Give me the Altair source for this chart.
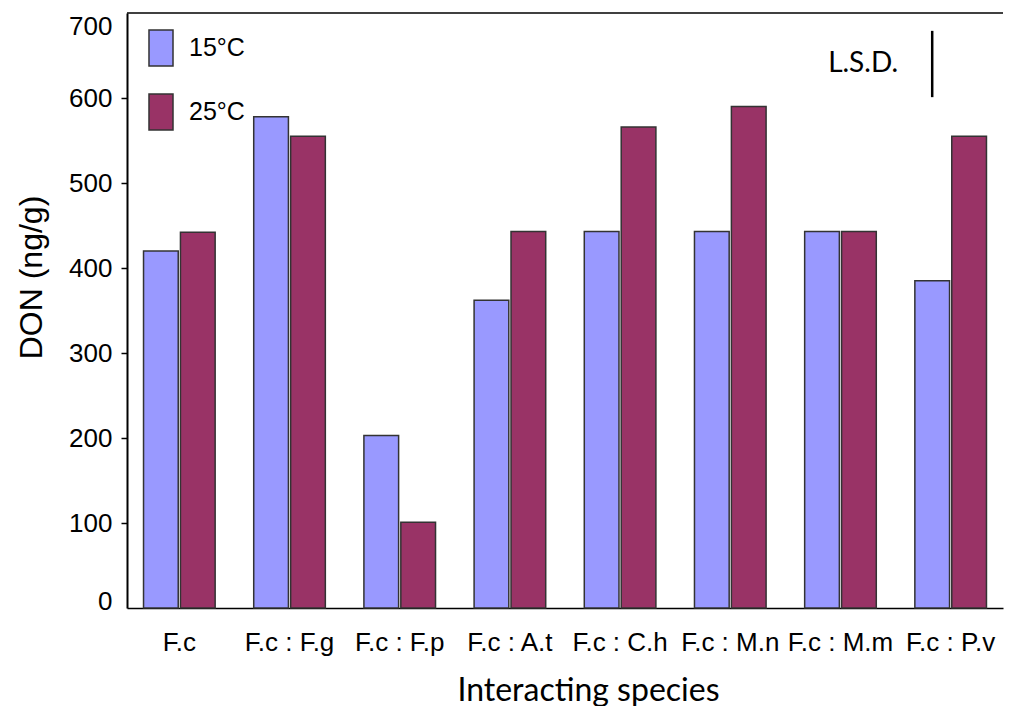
import altair as alt
import pandas as pd

species = ["F.c", "F.c : F.g", "F.c : F.p", "F.c : A.t",
           "F.c : C.h", "F.c : M.n", "F.c : M.m", "F.c : P.v"]
temps = ["15°C", "25°C"]
don_15 = [420, 578, 203, 362, 443, 443, 443, 385]
don_25 = [442, 555, 101, 443, 566, 590, 443, 555]
colors = ["#9999FF", "#993366"]
y_ticks = [0, 100, 200, 300, 400, 500, 600, 700]

lsd_species = ["F.c : P.v"]
lsd_temp = ["15°C"]
lsd_low = [601]
lsd_high = [679]
lsd_text_y = [640]

rows = []
for s, a, b in zip(species, don_15, don_25):
    rows.append({"species": s, "temp": temps[0], "don": a})
    rows.append({"species": s, "temp": temps[1], "don": b})
df = pd.DataFrame(rows)

lsd_df = pd.DataFrame({"species": lsd_species, "temp": lsd_temp,
                       "lo": lsd_low, "hi": lsd_high, "ty": lsd_text_y,
                       "label": ["L.S.D."]})

x_enc = alt.X("species:N", sort=species,
              scale=alt.Scale(paddingInner=0.35, paddingOuter=0.15),
              axis=alt.Axis(title="Interacting species", labelAngle=0,
                            labelFont="Liberation Sans", labelFontSize=26,
                            labelColor="black", labelPadding=21,
                            ticks=False, domainColor="black", domainWidth=1.5,
                            titleFont="Lato", titleFontSize=32,
                            titleFontWeight="normal", titleColor="black",
                            titlePadding=20, titleX=461))
xoff_enc = alt.XOffset("temp:N", sort=temps, scale=alt.Scale(paddingInner=0.06))

y_scale = alt.Scale(domain=[0, 700], nice=False)

bars = alt.Chart(df).mark_bar(stroke="#333333", strokeWidth=1.5).encode(
    x=x_enc,
    xOffset=xoff_enc,
    y=alt.Y("don:Q", scale=y_scale,
            axis=alt.Axis(title="DON (ng/g)", values=y_ticks, grid=False,
                          labelFont="Liberation Sans", labelFontSize=26,
                          labelColor="black", labelPadding=9,
                          labelOffset={"condition": [
                              {"test": "datum.value === 700", "value": 13},
                              {"test": "datum.value === 0", "value": -7}],
                              "value": 0},
                          tickColor={"condition": {"test": "datum.value === 700 || datum.value === 0",
                                                   "value": "transparent"},
                                     "value": "black"},
                          tickSize=6, tickWidth=1.5,
                          domainColor="black", domainWidth=2,
                          titleFont="Liberation Sans", titleFontSize=32,
                          titleFontWeight="normal", titleColor="black",
                          titlePadding=20, titleY=264)),
    color=alt.Color("temp:N", sort=temps,
                    scale=alt.Scale(domain=temps, range=colors),
                    legend=alt.Legend(title=None, orient="none", legendX=15,
                                      legendY=16, padding=0,
                                      symbolType="M-0.667,-1H0.667V1H-0.667Z",
                                      symbolSize=1296, symbolStrokeColor="#333333",
                                      symbolStrokeWidth=1.5, symbolOpacity=1,
                                      labelFont="Liberation Sans", labelFontSize=25,
                                      labelColor="black", labelOffset=9,
                                      rowPadding=22)),
)

top_line = alt.Chart(pd.DataFrame({"v": [700]})).mark_rule(
    color="black", strokeWidth=1.5).encode(
    y=alt.Y("v:Q", scale=y_scale, axis=None))

lsd_rule = alt.Chart(lsd_df).mark_rule(color="black", strokeWidth=2.5).encode(
    x=alt.X("species:N", sort=species, axis=None),
    xOffset=alt.XOffset("temp:N", sort=temps),
    y=alt.Y("lo:Q", scale=y_scale, axis=None),
    y2="hi:Q",
)

lsd_label = alt.Chart(lsd_df).mark_text(
    font="Lato", fontSize=28, color="black", align="right", dx=-34,
    baseline="middle").encode(
    x=alt.X("species:N", sort=species, axis=None),
    xOffset=alt.XOffset("temp:N", sort=temps),
    y=alt.Y("ty:Q", scale=y_scale, axis=None),
    text="label:N",
)

chart = alt.layer(bars, top_line, lsd_rule, lsd_label).resolve_axis(
    x="independent", y="independent"
).properties(
    width=876, height=595,
    padding={"left": 7, "top": 4, "right": 0, "bottom": 0},
).configure(background="white").configure_view(
    stroke="transparent", strokeOpacity=0, strokeWidth=0)

chart.save("out.html", embed_options={"renderer": "svg", "actions": False})
